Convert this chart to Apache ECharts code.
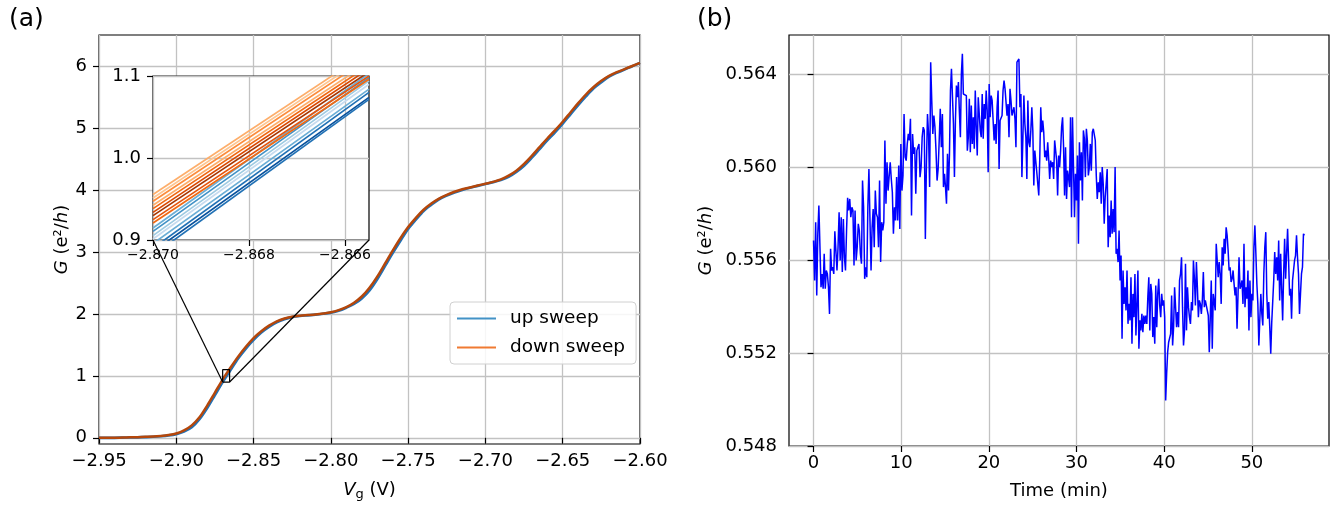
<!DOCTYPE html>
<html><head><meta charset="utf-8">
<script src="https://cdn.jsdelivr.net/npm/echarts@6/dist/echarts.min.js"></script>
<style>html,body{margin:0;padding:0;background:#fff}#c{width:1330px;height:506px}</style>
</head><body><div id="c"></div>
<script>
// ---------- Panel (a): gate sweep ----------
const gateVoltage = [-2.95,-2.945,-2.94,-2.935,-2.93,-2.925,-2.92,-2.915,-2.91,-2.905,-2.90,-2.895,-2.89,-2.885,-2.88,-2.875,-2.87,-2.865,-2.86,-2.855,-2.85,-2.845,-2.84,-2.835,-2.83,-2.825,-2.82,-2.815,-2.81,-2.805,-2.80,-2.795,-2.79,-2.785,-2.78,-2.775,-2.77,-2.765,-2.76,-2.755,-2.75,-2.745,-2.74,-2.735,-2.73,-2.725,-2.72,-2.715,-2.71,-2.705,-2.70,-2.695,-2.69,-2.685,-2.68,-2.675,-2.67,-2.665,-2.66,-2.655,-2.65,-2.645,-2.64,-2.635,-2.63,-2.625,-2.62,-2.615,-2.61,-2.605,-2.60];
const conductanceDown = [0.00,0.00,0.00,0.005,0.007,0.01,0.015,0.02,0.03,0.045,0.07,0.12,0.20,0.33,0.52,0.73,0.94,1.13,1.31,1.47,1.61,1.72,1.81,1.88,1.925,1.955,1.97,1.98,1.99,2.005,2.025,2.06,2.11,2.18,2.28,2.42,2.60,2.81,3.02,3.22,3.40,3.55,3.68,3.78,3.86,3.92,3.97,4.01,4.04,4.07,4.10,4.13,4.17,4.23,4.31,4.42,4.55,4.69,4.83,4.96,5.10,5.25,5.40,5.54,5.66,5.76,5.84,5.90,5.95,6.00,6.05];
const conductanceUp = [0.00,0.00,0.00,0.004,0.006,0.008,0.012,0.017,0.025,0.038,0.06,0.10,0.17,0.30,0.48,0.69,0.90,1.09,1.28,1.44,1.58,1.70,1.79,1.865,1.915,1.948,1.966,1.977,1.988,2.002,2.02,2.05,2.10,2.16,2.25,2.38,2.56,2.77,2.98,3.18,3.37,3.52,3.66,3.76,3.85,3.91,3.96,4.00,4.035,4.065,4.095,4.125,4.16,4.21,4.29,4.39,4.52,4.66,4.80,4.93,5.07,5.22,5.37,5.51,5.64,5.74,5.83,5.89,5.945,5.995,6.05];
const vgTicks = [-2.95,-2.90,-2.85,-2.80,-2.75,-2.70,-2.65,-2.60];
const gTicks = [0,1,2,3,4,5,6];
const legendNames = ['up sweep','down sweep'];

// inset (zoomed region)
const insetVgRange = [-2.870, -2.8655];
const insetGRange = [0.9, 1.1];
const insetVgTicks = [-2.870, -2.868, -2.866];
const insetGTicks = [0.9, 1.0, 1.1];
// each trace: G at left edge / right edge of the inset window
const insetDownLeft  = [0.9554,0.9513,0.9472,0.9423,0.9383,0.9337,0.9297,0.9248,0.9208];
const insetDownRight = [1.130,1.126,1.122,1.117,1.113,1.109,1.105,1.100,1.096];
const insetUpLeft  = [0.9147,0.9105,0.9053,0.9012,0.8957,0.8900,0.8858,0.8815];
const insetUpRight = [1.103,1.098,1.094,1.090,1.084,1.080,1.074,1.0715];

// ---------- Panel (b): time trace ----------
const segmentTimes = [[0, 14.82], [14.94, 30.22], [30.33, 56.0]];
const conductanceSeg1 = [0.55685,0.55513,0.55764,0.55448,0.55714,0.55836,0.55836,0.55484,0.55541,0.55477,
0.55628,0.55477,0.55556,0.55541,0.55484,0.55369,0.55649,0.55556,0.55570,0.55541,
0.55725,0.55721,0.55556,0.55656,0.55807,0.55599,0.55785,0.55549,0.55778,0.55613,
0.55556,0.55728,0.55869,0.55814,0.55864,0.55785,0.55828,0.55814,0.55577,0.55814,
0.55599,0.55656,0.55757,0.55728,0.55628,0.55585,0.55943,0.55828,0.55520,0.55570,
0.55527,0.55828,0.55993,0.55771,0.55556,0.55742,0.55821,0.55656,0.55900,0.55800,
0.55785,0.55656,0.55943,0.55592,0.55764,0.55728,0.55764,0.56116,0.55843,0.56022,
0.55900,0.55900,0.56022,0.55950,0.55893,0.55714,0.55828,0.55771,0.55958,0.55771,
0.56008,0.55735,0.56101,0.55900,0.55965,0.56230,0.56044,0.56029,0.56101,0.56144,
0.56116,0.56209,0.55793,0.56144,0.56058,0.56087,0.55886,0.56072,0.56080,0.56101,
0.55958,0.56001,0.56130,0.56173,0.56159,0.55692,0.56015,0.56230,0.56144,0.55915,
0.56453,0.56288,0.56144,0.56223,0.56173,0.56072,0.55943,0.55993,0.56116,0.56252,
0.56087,0.56230,0.55915];
const conductanceSeg2 = [0.55972,0.55915,0.55843,0.56058,0.55900,0.56058,0.56331,0.56424,0.56431,0.56187,
0.55958,0.56202,0.56352,0.56302,0.56367,0.56237,0.56130,0.56403,0.56489,0.56316,
0.56324,0.56316,0.56309,0.56072,0.56130,0.56295,0.56065,0.56266,0.56101,0.56216,
0.56080,0.56331,0.56173,0.56051,0.56302,0.56295,0.56159,0.56130,0.56316,0.56123,
0.56273,0.56209,0.56331,0.56245,0.55979,0.56359,0.56216,0.56309,0.56288,0.56202,
0.56116,0.56187,0.56101,0.56259,0.56331,0.55993,0.56202,0.56194,0.56223,0.56331,
0.56374,0.56338,0.56345,0.56223,0.56273,0.56130,0.56338,0.56288,0.56223,0.56216,
0.56259,0.56209,0.56087,0.56453,0.56453,0.56467,0.56259,0.56316,0.55958,0.56130,
0.56309,0.56187,0.56130,0.55950,0.56288,0.56108,0.56087,0.56159,0.56259,0.56159,
0.55922,0.56072,0.56080,0.55979,0.55972,0.55879,0.56037,0.56259,0.56151,0.56202,
0.56151,0.56044,0.56072,0.56029,0.56108,0.56037,0.55950,0.56029,0.56001,0.56022,
0.55950,0.56116,0.56116,0.56029,0.55879,0.56051,0.56001,0.56072,0.56173,0.56216,
0.56087,0.55879,0.56087,0.55864,0.55986,0.55958,0.55915,0.56216,0.55785,0.56216,
0.56223,0.55785,0.55972,0.55857,0.56051,0.55671];
const conductanceSeg3 = [0.56108,0.55943,0.56065,0.55857,0.56159,0.56123,0.55958,0.56166,0.56116,0.55965,
0.56001,0.56101,0.55986,0.56151,0.56166,0.56166,0.56116,0.55965,0.55864,0.55936,
0.55893,0.55979,0.55843,0.56001,0.55929,0.55757,0.55872,0.55929,0.55993,0.55656,
0.55793,0.55699,0.55857,0.55714,0.55821,0.55721,0.56001,0.55628,0.55649,0.55592,
0.55728,0.55513,0.55620,0.55262,0.55556,0.55412,0.55484,0.55384,0.55556,0.55326,
0.55412,0.55341,0.55527,0.55240,0.55455,0.55355,0.55541,0.55276,0.55412,0.55556,
0.55219,0.55341,0.55298,0.55369,0.55290,0.55362,0.55326,0.55362,0.55326,0.55441,
0.55527,0.55298,0.55498,0.55455,0.55269,0.55355,0.55240,0.55491,0.55312,0.55455,
0.55520,0.55405,0.55355,0.55455,0.55405,0.55427,0.55355,0.54996,0.55111,0.55204,
0.55247,0.55255,0.55283,0.55448,0.55233,0.55312,0.55484,0.55477,0.55312,0.55377,
0.55312,0.55513,0.55541,0.55613,0.55398,0.55233,0.55298,0.55585,0.55298,0.55484,
0.55398,0.55355,0.55326,0.55420,0.55384,0.55599,0.55520,0.55405,0.55592,0.55484,
0.55355,0.55427,0.55412,0.55369,0.55427,0.55549,0.55398,0.55427,0.55427,0.55434,
0.55362,0.55204,0.55355,0.55513,0.55219,0.55455,0.55455,0.55384,0.55671,0.55599,
0.55527,0.55592,0.55541,0.55412,0.55656,0.55577,0.55692,0.55628,0.55742,0.55707,
0.55642,0.55556,0.55570,0.55506,0.55520,0.55556,0.55498,0.55448,0.55484,0.55305,
0.55455,0.55613,0.55477,0.55491,0.55513,0.55412,0.55671,0.55398,0.55484,0.55434,
0.55556,0.55298,0.55513,0.55355,0.55455,0.55427,0.55656,0.55750,0.55628,0.55498,
0.55412,0.55233,0.55348,0.55455,0.55369,0.55319,0.55541,0.55656,0.55721,0.55455,
0.55348,0.55420,0.55312,0.55197,0.55333,0.55341,0.55513,0.55635,0.55541,0.55613,
0.55513,0.55685,0.55427,0.55628,0.55477,0.55341,0.55541,0.55692,0.55520,0.55628,
0.55735,0.55599,0.55448,0.55477,0.55348,0.55513,0.55556,0.55599,0.55620,0.55707,
0.55613,0.55541,0.55369,0.55455,0.55541,0.55570,0.55714,0.55707];
const timeTicks = [0,10,20,30,40,50];
const gTicksB = [0.548,0.552,0.556,0.560,0.564];

// ---------- styling ----------
const FONT = 'DejaVu Sans';
const GRIDC = '#c2c2c2';
const upColors = ['#6baed6','#4292c6','#9ecae1','#c6dbef','#6baed6','#2171b5','#08519c','#2171b5'];
const downColors = ['#fdae6b','#fdc692','#fd8d3c','#fdae6b','#f16913','#d94801','#a63603','#e6550d','#f16913'];
const minus = s => s.replace('-', '\u2212');
const txt = {fontFamily: FONT, color: '#000'};

function axisBase(ticks, fmt, size, margin) {
  return {
    axisLine: {show: false},
    axisTick: {show: true, customValues: ticks, length: 6, lineStyle: {color: '#000', width: 1.2}},
    axisLabel: Object.assign({customValues: ticks, formatter: fmt, fontSize: size, margin: margin, hideOverlap: false}, txt),
    splitLine: {show: true, lineStyle: {color: GRIDC, width: 1.3}}
  };
}
const richName = {i: {fontStyle: 'italic', fontSize: 18, fontFamily: FONT}, s: {fontSize: 13, fontFamily: FONT, padding: [9, 0, 0, 0]}};

const pair = (xs, ys) => xs.map((x, i) => [x, ys[i]]);
function timeSeries(seg, tr) {
  const n = seg.length;
  return seg.map((g, i) => [tr[0] + (tr[1] - tr[0]) * i / (n - 1), g]);
}
const traceB = [].concat(
  timeSeries(conductanceSeg1, segmentTimes[0]),
  timeSeries(conductanceSeg2, segmentTimes[1]),
  timeSeries(conductanceSeg3, segmentTimes[2])
);

const series = [];
series.push({type: 'line', xAxisIndex: 0, yAxisIndex: 0, data: pair(gateVoltage, conductanceUp), smooth: 0.3, symbol: 'none', lineStyle: {color: '#2171b5', width: 2.7}, z: 2, silent: true});
series.push({type: 'line', xAxisIndex: 0, yAxisIndex: 0, data: pair(gateVoltage, conductanceDown), smooth: 0.3, symbol: 'none', lineStyle: {color: '#b5470b', width: 2.5}, z: 3, silent: true});
series.push({type: 'line', xAxisIndex: 0, yAxisIndex: 0, symbol: 'none', silent: true, z: 4,
  data: [[insetVgRange[0], insetGRange[0]], [insetVgRange[1], insetGRange[0]], [insetVgRange[1], insetGRange[1]], [insetVgRange[0], insetGRange[1]], [insetVgRange[0], insetGRange[0]]],
  lineStyle: {color: '#000', width: 1.2}});
series.push({name: legendNames[0], type: 'line', xAxisIndex: 0, yAxisIndex: 0, data: [], color: '#4292c6', itemStyle: {color: '#4292c6'}});
series.push({name: legendNames[1], type: 'line', xAxisIndex: 0, yAxisIndex: 0, data: [], color: '#f07a32', itemStyle: {color: '#f07a32'}});
insetUpLeft.forEach((g, i) => series.push({type: 'line', xAxisIndex: 1, yAxisIndex: 1, symbol: 'none', silent: true, z: 6, clip: true,
  data: [[insetVgRange[0], g], [insetVgRange[1], insetUpRight[i]]], lineStyle: {color: upColors[i], width: 1.7}}));
insetDownLeft.forEach((g, i) => series.push({type: 'line', xAxisIndex: 1, yAxisIndex: 1, symbol: 'none', silent: true, z: 6, clip: true,
  data: [[insetVgRange[0], g], [insetVgRange[1], insetDownRight[i]]], lineStyle: {color: downColors[i], width: 1.7}}));
series.push({type: 'line', xAxisIndex: 2, yAxisIndex: 2, data: traceB, symbol: 'none', silent: true, lineStyle: {color: '#0000ff', width: 1.5}});

const option = {
  animation: false,
  backgroundColor: '#fff',
  title: [
    {text: '(a)', left: 9, top: 7, padding: 0, textStyle: Object.assign({fontSize: 25, fontWeight: 'normal'}, txt)},
    {text: '(b)', left: 697, top: 7, padding: 0, textStyle: Object.assign({fontSize: 25, fontWeight: 'normal'}, txt)}
  ],
  grid: [
    {left: 99, top: 35, width: 541, height: 411, show: true, borderColor: '#000', borderWidth: 1.2, backgroundColor: '#fff', z: 0},
    {left: 153, top: 76, width: 216, height: 164, show: true, borderColor: '#000', borderWidth: 1.2, backgroundColor: '#fff', z: 5},
    {left: 789, top: 35, width: 540, height: 411, show: true, borderColor: '#000', borderWidth: 1.2, backgroundColor: '#fff', z: 0}
  ],
  xAxis: [
    Object.assign({gridIndex: 0, type: 'value', min: -2.95, max: -2.60,
      name: '{i|V}{s|g} (V)', nameLocation: 'middle', nameGap: 35,
      nameTextStyle: Object.assign({fontSize: 18, rich: richName}, txt)},
      axisBase(vgTicks, v => minus(v.toFixed(2)), 18, 8)),
    Object.assign({gridIndex: 1, type: 'value', min: insetVgRange[0], max: insetVgRange[1], z: 6},
      axisBase(insetVgTicks, v => minus(v.toFixed(3)), 14, 8)),
    Object.assign({gridIndex: 2, type: 'value', min: -2.8, max: 58.8,
      name: 'Time (min)', nameLocation: 'middle', nameGap: 36,
      nameTextStyle: Object.assign({fontSize: 18}, txt)},
      axisBase(timeTicks, v => String(Math.round(v)), 18, 8))
  ],
  yAxis: [
    Object.assign({gridIndex: 0, type: 'value', min: -0.1, max: 6.5,
      name: '{i|G} (e\u00b2/{i|h})', nameLocation: 'middle', nameGap: 28,
      nameTextStyle: Object.assign({fontSize: 18, rich: richName}, txt)},
      axisBase(gTicks, v => String(Math.round(v)), 18, 12)),
    Object.assign({gridIndex: 1, type: 'value', min: insetGRange[0], max: insetGRange[1], z: 6},
      axisBase(insetGTicks, v => v.toFixed(1), 18, 12)),
    Object.assign({gridIndex: 2, type: 'value', min: 0.548, max: 0.5657,
      name: '{i|G} (e\u00b2/{i|h})', nameLocation: 'middle', nameGap: 74,
      nameTextStyle: Object.assign({fontSize: 18, rich: richName}, txt)},
      axisBase(gTicksB, v => v.toFixed(3), 18, 12))
  ],
  legend: {
    data: legendNames, left: 450, top: 302, orient: 'vertical', icon: 'rect',
    itemWidth: 39, itemHeight: 2, itemGap: 10, padding: [7, 11, 7, 7],
    borderColor: '#d0d0d0', borderWidth: 1, borderRadius: 4, backgroundColor: 'rgba(255,255,255,0.85)',
    selectedMode: false, z: 8,
    textStyle: Object.assign({fontSize: 18.5, padding: [0, 0, 0, 9]}, txt)
  },
  series: series
};

const chart = echarts.init(document.getElementById('c'), null, {renderer: 'canvas'});
chart.setOption(option);

const toPix = (g, x, y) => chart.convertToPixel({gridIndex: g}, [x, y]);
const a1 = toPix(1, insetVgRange[0], insetGRange[0]);
const b1 = toPix(0, insetVgRange[0], insetGRange[0]);
const a2 = toPix(1, insetVgRange[1], insetGRange[0]);
const b2 = toPix(0, insetVgRange[1], insetGRange[0]);
chart.setOption({graphic: [
  {type: 'line', z: 10, silent: true, shape: {x1: a1[0], y1: a1[1], x2: b1[0], y2: b1[1]}, style: {stroke: '#000', lineWidth: 1.2}},
  {type: 'line', z: 10, silent: true, shape: {x1: a2[0], y1: a2[1], x2: b2[0], y2: b2[1]}, style: {stroke: '#000', lineWidth: 1.2}}
]});
</script>
</body></html>
